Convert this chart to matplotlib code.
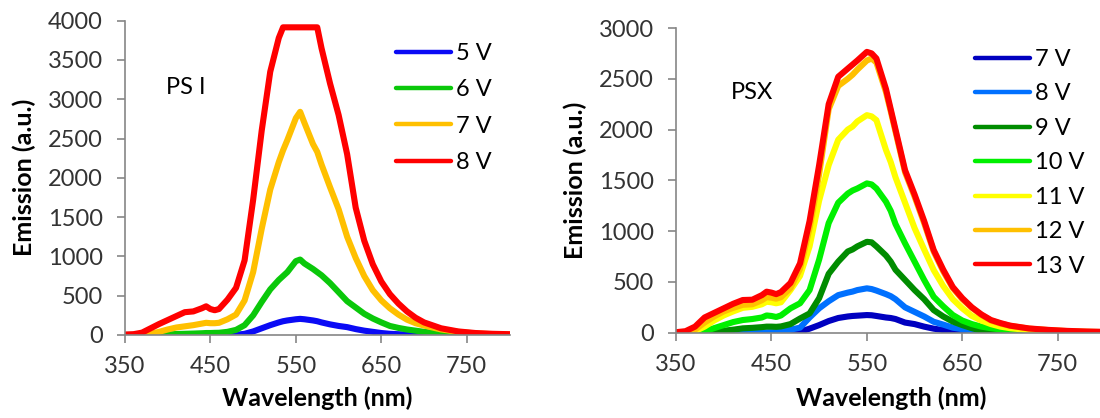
import matplotlib
matplotlib.use("Agg")
import matplotlib.pyplot as plt
import numpy as np

plt.rcParams['font.family'] = ['Lato', 'DejaVu Sans']

# wavelength grid shared by both panels (nm)
wl = [350, 360, 370, 380, 390, 400, 410, 420, 430, 440, 445, 450, 455, 460,
      470, 480, 490, 500, 510, 520, 530, 535, 540, 550, 555, 560, 570, 575,
      580, 590, 600, 610, 620, 630, 640, 650, 660, 670, 680, 690, 700, 720,
      740, 760, 780, 800]

# PS I spectra
psi_labels = ['5 V', '6 V', '7 V', '8 V']
psi_colors = ['#0a0af5', '#0ac80a', '#ffc000', '#ff0000']
psi_5v = [0, 0, 0, 0, 0, 0, 0, 0, 0, 0, 0, 0, 0, 0,
          0, 3, 15, 45, 85, 125, 160, 175, 185, 200, 205, 200, 185, 175,
          160, 135, 115, 100, 75, 55, 40, 25, 15, 10, 6, 4, 2, 0,
          0, 0, 0, 0]
psi_6v = [0, 0, 0, 2, 5, 8, 12, 15, 18, 22, 25, 25, 27, 28,
          40, 65, 125, 250, 420, 580, 700, 750, 800, 940, 960, 910, 840, 800,
          760, 660, 545, 430, 350, 270, 210, 160, 115, 90, 70, 55, 40, 20,
          8, 3, 0, 0]
psi_7v = [0, 0, 3, 15, 40, 70, 95, 110, 125, 145, 155, 150, 150, 155,
          200, 260, 440, 800, 1350, 1850, 2200, 2350, 2480, 2760, 2840, 2700, 2430, 2330,
          2170, 1880, 1600, 1250, 980, 750, 570, 440, 340, 260, 195, 150, 120, 70,
          40, 20, 10, 5]
psi_8v = [5, 10, 30, 85, 140, 190, 240, 290, 300, 340, 365, 330, 315, 330,
          450, 600, 950, 1720, 2600, 3350, 3780, 3915, 3915, 3915, 3915, 3915, 3915, 3915,
          3650, 3200, 2800, 2300, 1620, 1200, 900, 680, 520, 400, 300, 220, 160, 85,
          45, 25, 15, 10]

# PSX spectra
psx_labels = ['7 V', '8 V', '9 V', '10 V', '11 V', '12 V', '13 V']
psx_colors = ['#0000c0', '#0070ff', '#008c00', '#00f000', '#ffff00', '#ffc000', '#ff0000']
psx_7v = [0, 0, 0, 0, 0, 0, 0, 0, 0, 0, 0, 0, 0, 0,
          0, 10, 40, 75, 115, 145, 160, 165, 168, 174, 172, 165, 150, 145,
          135, 100, 85, 60, 40, 26, 15, 10, 5, 3, 0, 0, 0, 0,
          0, 0, 0, 0]
psx_8v = [0, 0, 0, 0, 0, 0, 0, 0, 0, 0, 2, 5, 5, 10,
          30, 50, 150, 240, 310, 370, 395, 405, 420, 437, 430, 415, 380, 360,
          330, 250, 205, 160, 108, 80, 50, 35, 22, 15, 10, 6, 4, 0,
          0, 0, 0, 0]
psx_9v = [0, 0, 0, 5, 12, 20, 30, 43, 48, 55, 60, 60, 58, 62,
          85, 140, 190, 340, 580, 700, 800, 820, 850, 895, 890, 850, 760, 700,
          620, 520, 420, 330, 223, 160, 110, 75, 45, 20, 12, 8, 5, 2,
          0, 0, 0, 0]
psx_10v = [0, 0, 3, 15, 45, 75, 105, 125, 135, 150, 170, 165, 155, 170,
           240, 290, 420, 720, 1080, 1280, 1370, 1400, 1420, 1470, 1460, 1420, 1290, 1200,
           1070, 880, 700, 520, 354, 260, 175, 120, 85, 60, 45, 32, 22, 12,
           6, 3, 0, 0]
psx_11v = [0, 3, 15, 60, 120, 170, 210, 245, 255, 280, 305, 300, 290, 300,
           420, 560, 850, 1300, 1650, 1900, 2000, 2030, 2080, 2142, 2130, 2093, 1800, 1680,
           1530, 1280, 1030, 820, 617, 460, 330, 240, 165, 120, 85, 60, 45, 25,
           15, 8, 5, 3]
psx_12v = [0, 5, 30, 100, 160, 210, 245, 275, 280, 320, 350, 345, 335, 350,
           440, 630, 1030, 1560, 2200, 2430, 2500, 2540, 2590, 2680, 2700, 2660, 2370, 2180,
           1980, 1580, 1340, 1080, 800, 605, 440, 330, 245, 175, 120, 90, 68, 40,
           26, 16, 10, 6]
psx_13v = [5, 15, 60, 150, 195, 240, 285, 322, 325, 370, 404, 395, 380, 400,
           490, 683, 1100, 1650, 2250, 2520, 2600, 2640, 2680, 2765, 2750, 2700, 2400, 2200,
           2000, 1600, 1360, 1100, 814, 620, 450, 340, 250, 180, 125, 95, 70, 42,
           28, 18, 12, 8]

psi_series = [psi_5v, psi_6v, psi_7v, psi_8v]
psx_series = [psx_7v, psx_8v, psx_9v, psx_10v, psx_11v, psx_12v, psx_13v]

FS = 17
LFS = 18
TICK_COLOR = '#868686'


def style_axes(ax, ymax):
    ax.set_xlim(350, 800)
    ax.set_ylim(0, ymax)
    ax.set_xticks([350, 450, 550, 650, 750])
    ax.set_yticks(np.arange(0, ymax + 1, 500))
    for s in ['top', 'right']:
        ax.spines[s].set_visible(False)
    for s in ['left', 'bottom']:
        ax.spines[s].set_color(TICK_COLOR)
        ax.spines[s].set_linewidth(1.2)
    ax.tick_params(axis='both', direction='out', length=6, width=1.2,
                   color=TICK_COLOR, labelsize=FS, labelcolor='#333333')
    ax.tick_params(axis='x', pad=9)
    ax.tick_params(axis='y', pad=10)
    ax.set_xlabel('Wavelength (nm)', fontsize=LFS, fontweight='bold')
    ax.set_ylabel('Emission (a.u.)', fontsize=LFS, fontweight='bold')


fig = plt.figure(figsize=(11, 4.18), dpi=100)
ax1 = fig.add_axes([0.1136, 0.1986, 0.3496, 0.752])
ax2 = fig.add_axes([0.6145, 0.204, 0.3905, 0.729])

for vals, lab, col in zip(psi_series, psi_labels, psi_colors):
    ax1.plot(wl, vals, color=col, lw=4.4, label=lab, solid_joinstyle='round')
for vals, lab, col in zip(psx_series, psx_labels, psx_colors):
    ax2.plot(wl, vals, color=col, lw=4.4, label=lab, solid_joinstyle='round')

style_axes(ax1, 4000)
style_axes(ax2, 3000)

ax1.xaxis.set_label_coords(0.5, -0.165)
ax2.xaxis.set_label_coords(0.5, -0.177)
ax1.yaxis.set_label_coords(-0.23, 0.5)
ax2.yaxis.set_label_coords(-0.208, 0.5)

ax1.text(0.108, 0.786, 'PS I', transform=ax1.transAxes, fontsize=FS,
         va='center', ha='left')
ax2.text(0.1275, 0.787, 'PSX', transform=ax2.transAxes, fontsize=FS,
         va='center', ha='left')

leg1 = ax1.legend(loc='upper left', bbox_to_anchor=(396 / 1100, 1 - 43 / 418),
                  bbox_transform=fig.transFigure, frameon=False, fontsize=FS,
                  handlelength=2.33, handletextpad=0.2, labelspacing=0.65,
                  borderpad=0, borderaxespad=0)
leg2 = ax2.legend(loc='upper left', bbox_to_anchor=(975 / 1100, 1 - 49 / 418),
                  bbox_transform=fig.transFigure, frameon=False, fontsize=FS,
                  handlelength=2.33, handletextpad=0.2, labelspacing=0.57,
                  borderpad=0, borderaxespad=0)
for leg in (leg1, leg2):
    for h in leg.get_lines():
        h.set_linewidth(3.2)
        h.set_solid_capstyle('round')

plt.savefig('out.png', dpi=100)
plt.close()
